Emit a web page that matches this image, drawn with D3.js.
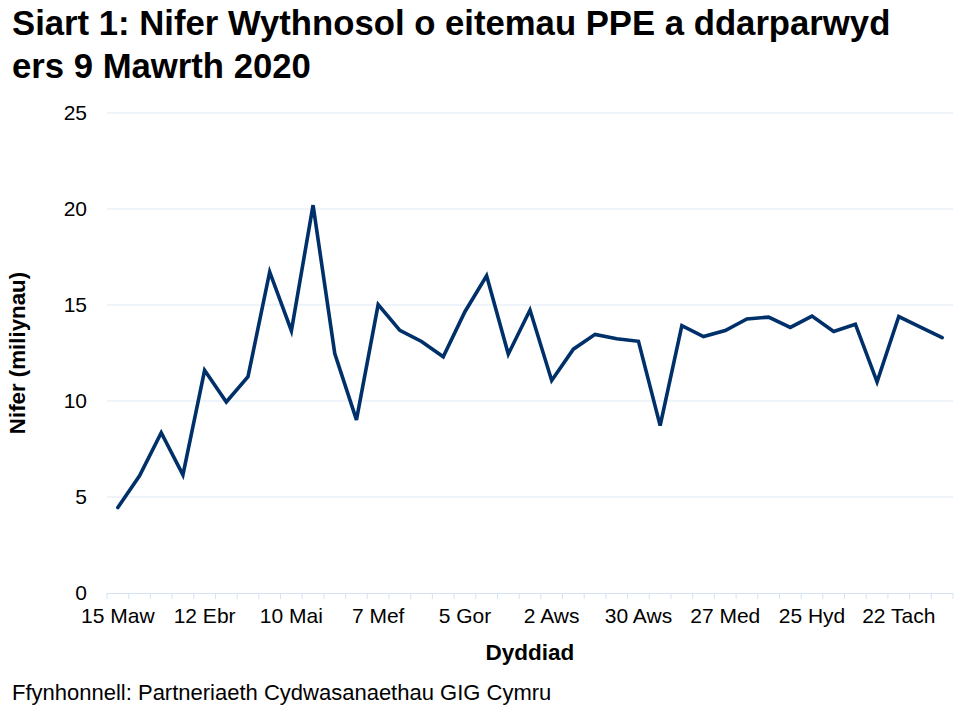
<!DOCTYPE html>
<html>
<head>
<meta charset="utf-8">
<script src="https://cdn.jsdelivr.net/npm/d3@7"></script>
<style>
  body { margin: 0; background: #fff; }
  svg { display: block; font-family: "Liberation Sans", Arial, sans-serif; }
</style>
</head>
<body>
<svg id="chart" width="966" height="712"></svg>
<script>
// weekly dates (w/c), Welsh labels
const weeks = ["15 Maw", "22 Maw", "29 Maw", "5 Ebr", "12 Ebr", "19 Ebr", "26 Ebr", "3 Mai",
  "10 Mai", "17 Mai", "24 Mai", "31 Mai", "7 Mef", "14 Mef", "21 Mef", "28 Mef",
  "5 Gor", "12 Gor", "19 Gor", "26 Gor", "2 Aws", "9 Aws", "16 Aws", "23 Aws",
  "30 Aws", "6 Med", "13 Med", "20 Med", "27 Med", "4 Hyd", "11 Hyd", "18 Hyd",
  "25 Hyd", "1 Tach", "8 Tach", "15 Tach", "22 Tach", "29 Tach", "6 Rhag"];

// items issued, millions
const items = [4.45, 6.1, 8.35, 6.15, 11.6, 9.95, 11.27, 16.72,
  13.66, 20.2, 12.47, 9.02, 15.02, 13.68, 13.1, 12.3,
  14.65, 16.52, 12.44, 14.74, 11.07, 12.7, 13.47, 13.24,
  13.11, 8.72, 13.92, 13.36, 13.67, 14.27, 14.37, 13.83,
  14.42, 13.62, 14.0, 11.0, 14.4, 13.85, 13.3];

const shownLabels = ["15 Maw", "12 Ebr", "10 Mai", "7 Mef", "5 Gor", "2 Aws", "30 Aws", "27 Med", "25 Hyd", "22 Tach"];
const yTicks = [0, 5, 10, 15, 20, 25];

const svg = d3.select("#chart");
const margin = { left: 107, right: 13, top: 113, bottom: 119 };
const width = 966, height = 712;

const x = d3.scaleBand()
  .domain(weeks)
  .range([margin.left, width - margin.right])
  .padding(0);

const y = d3.scaleLinear()
  .domain([0, 25])
  .range([height - margin.bottom, margin.top]);

// Title
const title = svg.append("text")
  .attr("x", 12)
  .attr("font-size", 34.7)
  .attr("font-weight", "bold")
  .attr("fill", "#000");
title.append("tspan").attr("x", 12).attr("y", 35).text("Siart 1: Nifer Wythnosol o eitemau PPE a ddarparwyd");
title.append("tspan").attr("x", 12).attr("y", 78).text("ers 9 Mawrth 2020");

// Gridlines
svg.append("g")
  .selectAll("line")
  .data(yTicks.filter(d => d > 0))
  .join("line")
  .attr("x1", margin.left)
  .attr("x2", width - margin.right)
  .attr("y1", d => y(d))
  .attr("y2", d => y(d))
  .attr("stroke", "#dde8f3")
  .attr("stroke-width", 1);

// Y axis labels
const yAxis = svg.append("g")
  .attr("transform", `translate(${margin.left},0)`)
  .call(d3.axisLeft(y).tickValues(yTicks).tickSize(0).tickPadding(20));
yAxis.select(".domain").remove();
yAxis.selectAll("text")
  .attr("font-size", 21)
  .attr("font-family", "Liberation Sans, Arial, sans-serif")
  .attr("fill", "#000");

// X axis: line + tick marks at band edges
const x0 = height - margin.bottom;
svg.append("line")
  .attr("x1", margin.left)
  .attr("x2", width - margin.right)
  .attr("y1", x0 + 0.5)
  .attr("y2", x0 + 0.5)
  .attr("stroke", "#d4e3f3")
  .attr("stroke-width", 1.2);

const edges = weeks.map(d => x(d)).concat([x.range()[1]]);
svg.append("g")
  .selectAll("line")
  .data(edges)
  .join("line")
  .attr("x1", d => d)
  .attr("x2", d => d)
  .attr("y1", x0)
  .attr("y2", x0 + 6)
  .attr("stroke", "#d4e3f3")
  .attr("stroke-width", 1);

const xAxis = svg.append("g")
  .attr("transform", `translate(0,${x0})`)
  .call(d3.axisBottom(x).tickValues(shownLabels).tickSize(0).tickPadding(15));
xAxis.select(".domain").remove();
xAxis.selectAll("text")
  .attr("font-size", 21)
  .attr("font-family", "Liberation Sans, Arial, sans-serif")
  .attr("fill", "#000");

// Line
const line = d3.line()
  .x((d, i) => x(weeks[i]) + x.bandwidth() / 2)
  .y(d => y(d));

svg.append("path")
  .datum(items)
  .attr("d", line)
  .attr("fill", "none")
  .attr("stroke", "#003069")
  .attr("stroke-width", 3.6)
  .attr("stroke-linejoin", "miter")
  .attr("stroke-linecap", "round");

// Axis titles
svg.append("text")
  .attr("x", (margin.left + width - margin.right) / 2)
  .attr("y", 660)
  .attr("text-anchor", "middle")
  .attr("font-size", 22.5)
  .attr("font-weight", "bold")
  .text("Dyddiad");

svg.append("text")
  .attr("transform", `translate(25,${(margin.top + height - margin.bottom) / 2}) rotate(-90)`)
  .attr("text-anchor", "middle")
  .attr("font-size", 22.3)
  .attr("font-weight", "bold")
  .text("Nifer (miliynau)");

// Source
svg.append("text")
  .attr("x", 12)
  .attr("y", 700)
  .attr("font-size", 22)
  .text("Ffynhonnell: Partneriaeth Cydwasanaethau GIG Cymru");
</script>
</body>
</html>
